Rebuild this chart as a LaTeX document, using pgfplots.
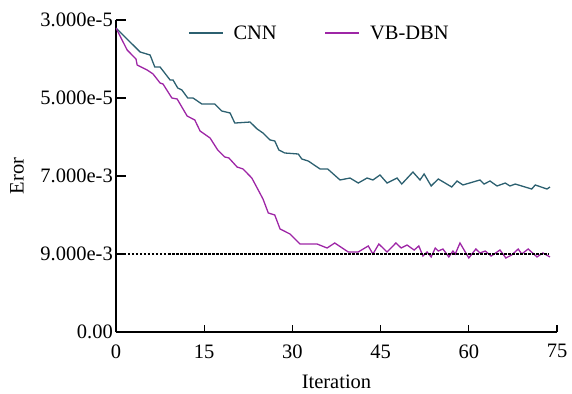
\documentclass[border=0pt]{standalone}
\usepackage{fontspec}
\setmainfont{Liberation Serif}
\usepackage{pgfplots}
\pgfplotsset{compat=1.18}
\definecolor{cnncol}{RGB}{44,96,112}
\definecolor{dbncol}{RGB}{158,38,166}
\newcommand{\fs}{\fontsize{20.5}{24}\selectfont}
\begin{document}
\begin{tikzpicture}
\path[use as bounding box] (-116pt,-61pt) rectangle (456pt,332pt);
\begin{axis}[
  scale only axis,
  width=441pt, height=312pt,
  xmin=0, xmax=75, ymin=0, ymax=4,
  axis lines=left,
  axis line style={-, line width=1.1pt, black},
  tick align=inside,
  tick style={line width=1.1pt, black},
  xtick style={/pgfplots/major tick length=7pt},
  ytick style={/pgfplots/major tick length=10pt},
  xtick={0,15,30,45,60,75},
  xticklabels={0,15,30,45,60,75},
  ytick={0,1,2,3,4},
  yticklabels={0.00,9.000e-3,7.000e-3,5.000e-5,3.000e-5},
  /pgf/number format/assume math mode=true,
  tick label style={font=\fs},
  xticklabel style={yshift=-9pt},
  yticklabel style={inner sep=3pt},
  every axis x label/.style={at={(axis description cs:0.5,0)}, yshift=-50pt, anchor=center},
  every axis y label/.style={at={(axis description cs:0,0.5)}, xshift=-99pt, rotate=90, anchor=center},
  label style={font=\fs},
  xlabel={Iteration},
  ylabel={Eror},
  legend columns=2,
  legend cell align=left,
  legend image code/.code={\draw[#1] (0pt,0pt) -- (34pt,0pt);},
  legend style={draw=none, fill=none, font=\fs,
    at={(axis description cs:0.1633,0.958)}, anchor=west, inner sep=0pt,
    /tikz/every odd column/.append style={column sep=8pt},
    /tikz/every even column/.append style={column sep=46pt}},
]
\addplot[cnncol, line width=1.3pt] coordinates {
(0,3.897) (4.1,3.590) (5.8,3.551) (6.6,3.397) (7.5,3.397) (9.2,3.231) (9.7,3.231)
(10.5,3.128) (11.2,3.103) (12.2,3.000) (13.1,3.000) (14.6,2.923) (16.8,2.923)
(18,2.833) (19.4,2.808) (20.2,2.679) (22.8,2.692) (24,2.603) (25,2.551)
(26.2,2.462) (27,2.449) (27.7,2.333) (28.7,2.295) (31,2.282) (31.6,2.218)
(32.7,2.192) (34.7,2.090) (36,2.090) (38.1,1.949) (39.8,1.974) (41.2,1.910)
(42.7,1.974) (43.7,1.949) (44.9,2.013) (46.1,1.910) (47.8,1.974) (48.6,1.897)
(50.5,2.051) (51.7,1.949) (52.4,2.026) (53.6,1.872) (54.8,1.962) (57.1,1.859)
(58,1.936) (59,1.885) (61.9,1.949) (62.6,1.897) (63.6,1.936) (64.8,1.872)
(66.2,1.910) (67,1.872) (67.9,1.897) (70.7,1.833) (71.3,1.885) (73.3,1.833)
(73.8,1.859)
};
\addlegendentry{CNN}
\addplot[dbncol, line width=1.3pt] coordinates {
(0,3.897) (1.9,3.615) (3.4,3.500) (3.6,3.423) (5.3,3.359) (6.3,3.308) (7.5,3.192)
(8.0,3.179) (9.5,3.000) (10.4,2.987) (12.1,2.769) (13.4,2.718) (14.3,2.577)
(16.0,2.487) (17.3,2.333) (18.5,2.244) (19.2,2.231) (20.6,2.115) (21.6,2.090)
(23.1,1.974) (24.1,1.833) (25.0,1.705) (25.9,1.526) (27.0,1.500) (27.9,1.321)
(29.6,1.256) (31.3,1.128) (34.2,1.128) (35.9,1.077) (37.2,1.141) (39.5,1.026)
(41.2,1.026) (42.9,1.103) (43.7,1.000) (44.7,1.128) (46.1,1.026) (47.6,1.141)
(48.5,1.077) (49.5,1.115) (50.7,1.051) (51.5,1.103) (52.2,0.974) (52.9,1.026)
(53.6,0.962) (54.3,1.077) (54.8,1.038) (55.6,1.064) (56.6,0.962) (57.3,1.038)
(57.7,1.000) (58.5,1.141) (60.0,0.949) (61.2,1.064) (61.9,1.013) (62.8,1.038)
(63.8,0.974) (65.3,1.051) (66.3,0.949) (67.3,0.987) (68.4,1.064) (69.0,1.000)
(70.1,1.064) (71.6,0.962) (72.6,1.013) (73.8,0.962)
};
\addlegendentry{VB-DBN}
\addplot[black, line width=1.2pt, dash pattern=on 2.5pt off 1.5pt, forget plot] coordinates {(0,1) (73.5,1)};
\end{axis}
\end{tikzpicture}
\end{document}
